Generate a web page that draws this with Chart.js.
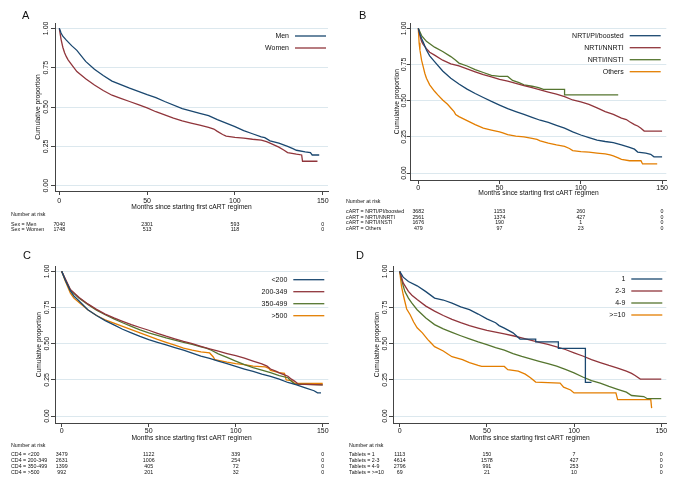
<!DOCTYPE html>
<html>
<head>
<meta charset="utf-8">
<script src="https://cdn.jsdelivr.net/npm/chart.js@4"></script>
<style>
  body { margin: 0; background: #fff; }
  #wrap { width: 676px; height: 486px; display: grid; grid-template-columns: 338px 338px; grid-template-rows: 243px 243px; }
  canvas { display: block; }
</style>
</head>
<body>
<div id="wrap">
  <canvas id="chartA" width="338" height="243"></canvas>
  <canvas id="chartB" width="338" height="243"></canvas>
  <canvas id="chartC" width="338" height="243"></canvas>
  <canvas id="chartD" width="338" height="243"></canvas>
</div>
<script>
const monthTicks = [0, 50, 100, 150];
const propTicks = [0, 0.25, 0.5, 0.75, 1];
const kmColors = ['#1a476f', '#90353b', '#55752f', '#e37e00'];

// Panel A: sex
const sexLabels = ['Men', 'Women'];
const menMonths = [0, 1, 2, 4, 7, 10, 15, 20, 25, 30, 40, 50, 55, 60, 70, 80, 85, 90, 100, 105, 110, 115, 117, 120, 125, 130, 133, 135, 140, 143, 144, 148];
const menProp = [1, 0.97, 0.95, 0.925, 0.89, 0.86, 0.79, 0.74, 0.70, 0.665, 0.62, 0.578, 0.56, 0.535, 0.49, 0.46, 0.445, 0.42, 0.375, 0.35, 0.33, 0.31, 0.305, 0.285, 0.27, 0.25, 0.235, 0.225, 0.215, 0.21, 0.195, 0.195];
const womenMonths = [0, 1, 2, 3, 4, 5, 7, 10, 15, 20, 25, 30, 35, 40, 45, 50, 55, 60, 65, 70, 75, 80, 85, 88, 90, 93, 95, 100, 105, 110, 115, 118, 120, 125, 128, 130, 135, 138, 138.5, 147];
const womenProp = [1, 0.93, 0.88, 0.845, 0.82, 0.8, 0.77, 0.725, 0.68, 0.64, 0.605, 0.575, 0.555, 0.535, 0.515, 0.495, 0.47, 0.45, 0.43, 0.412, 0.398, 0.385, 0.37, 0.36, 0.345, 0.325, 0.315, 0.307, 0.302, 0.295, 0.29, 0.28, 0.27, 0.245, 0.225, 0.21, 0.2, 0.195, 0.155, 0.155];
const sexRiskLabels = ['Sex = Men', 'Sex = Women'];
const sexRisk = [[7040, 2301, 593, 0], [1748, 513, 118, 0]];

// Panel B: cART regimen
const cartLabels = ['NRTI/PI/boosted', 'NRTI/NNRTI', 'NRTI/INSTI', 'Others'];
const piMonths = [0, 1, 2, 3, 5, 7, 10, 15, 20, 25, 30, 35, 40, 45, 50, 55, 60, 65, 70, 75, 80, 85, 90, 95, 100, 105, 110, 115, 120, 125, 130, 133, 135, 140, 143, 145, 150];
const piProp = [1, 0.96, 0.93, 0.905, 0.85, 0.81, 0.77, 0.705, 0.655, 0.615, 0.58, 0.55, 0.522, 0.495, 0.47, 0.445, 0.425, 0.405, 0.385, 0.365, 0.35, 0.33, 0.31, 0.285, 0.263, 0.245, 0.228, 0.218, 0.21, 0.195, 0.178, 0.165, 0.145, 0.138, 0.13, 0.112, 0.112];
const nnrtiMonths = [0, 1, 2, 3, 5, 7, 10, 15, 20, 25, 30, 35, 40, 45, 50, 55, 60, 65, 70, 75, 80, 85, 90, 95, 100, 105, 110, 115, 120, 125, 128, 130, 133, 135, 137, 139, 150];
const nnrtiProp = [1, 0.95, 0.91, 0.89, 0.86, 0.835, 0.815, 0.78, 0.755, 0.74, 0.72, 0.7, 0.68, 0.665, 0.647, 0.635, 0.62, 0.605, 0.59, 0.575, 0.56, 0.545, 0.528, 0.505, 0.492, 0.475, 0.45, 0.425, 0.405, 0.38, 0.37, 0.355, 0.335, 0.325, 0.31, 0.29, 0.29];
const instiMonths = [0, 2, 5, 10, 15, 20, 23, 25, 30, 35, 40, 45, 50, 55, 58, 62, 65, 70, 74, 77, 90, 90, 123];
const instiProp = [1, 0.95, 0.91, 0.87, 0.84, 0.805, 0.78, 0.76, 0.74, 0.715, 0.695, 0.675, 0.668, 0.668, 0.64, 0.625, 0.61, 0.6, 0.59, 0.578, 0.578, 0.54, 0.54];
const otherMonths = [0, 0.5, 1, 2, 3, 4, 5, 7, 10, 12, 15, 18, 20, 22, 23, 25, 30, 35, 40, 45, 50, 52, 55, 60, 65, 70, 73, 75, 80, 85, 90, 93, 95, 100, 105, 110, 115, 118, 120, 123, 125, 130, 137, 138, 147];
const otherProp = [1, 0.9, 0.85, 0.78, 0.735, 0.69, 0.655, 0.61, 0.565, 0.54, 0.505, 0.475, 0.45, 0.425, 0.405, 0.39, 0.362, 0.335, 0.31, 0.297, 0.285, 0.278, 0.265, 0.255, 0.25, 0.24, 0.232, 0.222, 0.207, 0.195, 0.185, 0.17, 0.155, 0.148, 0.145, 0.138, 0.132, 0.125, 0.118, 0.105, 0.095, 0.085, 0.085, 0.063, 0.063];
const cartRiskLabels = ['cART = NRTI/PI/boosted', 'cART = NRTI/NNRTI', 'cART = NRTI/INSTI', 'cART = Others'];
const cartRisk = [[3682, 1153, 260, 0], [2561, 1374, 427, 0], [1676, 190, 1, 0], [479, 97, 23, 0]];

// Panel C: CD4 count
const cd4Labels = ['<200', '200-349', '350-499', '>500'];
const cd4aMonths = [0, 2, 5, 7, 10, 15, 20, 25, 30, 35, 40, 45, 50, 55, 60, 65, 70, 75, 80, 85, 90, 95, 100, 105, 110, 115, 120, 125, 130, 135, 140, 145, 147, 149];
const cd4aProp = [1, 0.94, 0.865, 0.83, 0.795, 0.735, 0.695, 0.66, 0.63, 0.6, 0.575, 0.55, 0.528, 0.51, 0.492, 0.473, 0.455, 0.435, 0.415, 0.398, 0.38, 0.362, 0.343, 0.325, 0.308, 0.29, 0.274, 0.255, 0.232, 0.215, 0.195, 0.175, 0.16, 0.16];
const cd4bMonths = [0, 2, 5, 10, 15, 20, 25, 30, 35, 40, 45, 50, 55, 60, 65, 70, 75, 80, 85, 90, 95, 100, 105, 110, 115, 118, 120, 123, 125, 128, 130, 132, 134, 136, 150];
const cd4bProp = [1, 0.95, 0.875, 0.82, 0.775, 0.737, 0.705, 0.678, 0.655, 0.632, 0.612, 0.593, 0.572, 0.552, 0.534, 0.516, 0.5, 0.482, 0.465, 0.448, 0.432, 0.417, 0.4, 0.38, 0.36, 0.345, 0.325, 0.31, 0.298, 0.285, 0.275, 0.255, 0.24, 0.22, 0.215];
const cd4cMonths = [0, 2, 5, 10, 15, 20, 25, 30, 35, 40, 45, 50, 55, 60, 65, 70, 75, 80, 83, 86, 90, 95, 100, 105, 110, 115, 120, 125, 130, 132, 134, 150];
const cd4cProp = [1, 0.945, 0.87, 0.815, 0.772, 0.732, 0.7, 0.672, 0.645, 0.62, 0.595, 0.575, 0.558, 0.54, 0.525, 0.51, 0.495, 0.478, 0.47, 0.455, 0.43, 0.405, 0.38, 0.355, 0.335, 0.318, 0.3, 0.28, 0.265, 0.24, 0.22, 0.215];
const cd4dMonths = [0, 2, 5, 7, 10, 15, 20, 25, 30, 35, 40, 45, 50, 55, 60, 65, 70, 75, 80, 85, 87, 88, 90, 95, 100, 105, 110, 117, 119, 120, 125, 128, 129, 132, 134, 150];
const cd4dProp = [1, 0.935, 0.85, 0.815, 0.785, 0.735, 0.695, 0.665, 0.643, 0.62, 0.598, 0.575, 0.553, 0.53, 0.51, 0.49, 0.47, 0.455, 0.443, 0.436, 0.41, 0.39, 0.385, 0.372, 0.362, 0.355, 0.345, 0.34, 0.33, 0.315, 0.3, 0.295, 0.25, 0.245, 0.225, 0.225];
const cd4RiskLabels = ['CD4 = <200', 'CD4 = 200-349', 'CD4 = 350-499', 'CD4 = >500'];
const cd4Risk = [[3479, 1122, 339, 0], [2631, 1006, 254, 0], [1399, 405, 72, 0], [992, 201, 32, 0]];

// Panel D: number of tablets
const tabLabels = ['1', '2-3', '4-9', '>=10'];
const tab1Months = [0, 2, 5, 10, 15, 20, 25, 30, 35, 40, 45, 50, 55, 57, 60, 65, 69, 78, 78, 91, 91, 106.5, 106.5, 110];
const tab1Prop = [1, 0.96, 0.93, 0.9, 0.86, 0.815, 0.802, 0.78, 0.755, 0.735, 0.705, 0.672, 0.645, 0.625, 0.608, 0.575, 0.532, 0.532, 0.512, 0.512, 0.468, 0.468, 0.233, 0.233];
const tab2Months = [0, 2, 5, 7, 10, 15, 20, 25, 30, 35, 40, 45, 50, 55, 60, 65, 70, 75, 80, 85, 90, 95, 100, 105, 110, 115, 120, 125, 130, 133, 135, 138, 150];
const tab2Prop = [1, 0.92, 0.862, 0.835, 0.805, 0.76, 0.725, 0.695, 0.668, 0.645, 0.625, 0.608, 0.592, 0.58, 0.568, 0.555, 0.54, 0.525, 0.51, 0.495, 0.478, 0.46, 0.437, 0.415, 0.39, 0.37, 0.35, 0.332, 0.31, 0.295, 0.28, 0.255, 0.255];
const tab4Months = [0, 2, 3, 5, 7, 10, 15, 20, 25, 30, 35, 40, 45, 50, 55, 60, 65, 70, 75, 80, 85, 90, 95, 100, 105, 110, 115, 120, 125, 130, 133, 140, 142, 150];
const tab4Prop = [1, 0.9, 0.86, 0.815, 0.78, 0.735, 0.678, 0.632, 0.602, 0.578, 0.555, 0.533, 0.512, 0.493, 0.473, 0.455, 0.432, 0.412, 0.395, 0.378, 0.362, 0.345, 0.322, 0.298, 0.27, 0.245, 0.228, 0.205, 0.185, 0.165, 0.142, 0.135, 0.12, 0.12];
const tab10Months = [0, 1, 2, 3, 4, 6, 8, 10, 13, 16, 18, 20, 25, 28, 30, 36, 40, 45, 47, 60, 62, 68, 72, 75, 78, 92, 94, 98, 100, 124, 125, 144, 144.5];
const tab10Prop = [1, 0.9, 0.84, 0.79, 0.74, 0.7, 0.65, 0.61, 0.575, 0.53, 0.505, 0.48, 0.45, 0.425, 0.41, 0.39, 0.37, 0.35, 0.343, 0.343, 0.32, 0.31, 0.29, 0.265, 0.235, 0.228, 0.2, 0.18, 0.16, 0.16, 0.113, 0.113, 0.055];
const tabRiskLabels = ['Tablets = 1', 'Tablets = 2-3', 'Tablets = 4-9', 'Tablets = >=10'];
const tabRisk = [[1113, 150, 7, 0], [4614, 1578, 427, 0], [2796, 991, 253, 0], [69, 21, 10, 0]];

Chart.defaults.font.family = '"Liberation Sans", Arial, sans-serif';
Chart.defaults.color = '#111';

const textFont = '"Liberation Sans", Arial, sans-serif';

const kmLegend = {
  id: 'kmLegend',
  afterDraw(chart, args, opts) {
    const { ctx, chartArea } = chart;
    ctx.save();
    ctx.font = '7px ' + textFont;
    ctx.textAlign = 'right';
    ctx.textBaseline = 'middle';
    chart.data.datasets.forEach((ds, i) => {
      const y = chartArea.top + opts.firstRow + i * 12;
      const x1 = chartArea.right - opts.inset;
      const x0 = x1 - 31;
      ctx.strokeStyle = ds.borderColor;
      ctx.lineWidth = ds.borderWidth;
      ctx.beginPath();
      ctx.moveTo(x0, y);
      ctx.lineTo(x1, y);
      ctx.stroke();
      ctx.fillStyle = '#111';
      ctx.fillText(ds.label, x0 - 6, y);
    });
    ctx.restore();
  }
};

const riskTable = {
  id: 'riskTable',
  afterDraw(chart, args, opts) {
    const ctx = chart.ctx;
    const xs = chart.scales.x;
    ctx.save();
    ctx.fillStyle = '#111';
    ctx.textBaseline = 'middle';
    ctx.font = '11px ' + textFont;
    ctx.textAlign = 'left';
    ctx.fillText(opts.letter, opts.letterX, opts.letterY);
    ctx.font = '5.3px ' + textFont;
    ctx.fillText('Number at risk', opts.labelX, opts.headY);
    opts.labels.forEach((lab, i) => {
      const y = opts.firstY + i * opts.gap;
      ctx.textAlign = 'left';
      ctx.fillText(lab, opts.labelX, y);
      ctx.textAlign = 'center';
      monthTicks.forEach((m, j) => {
        ctx.fillText(String(opts.counts[i][j]), xs.getPixelForValue(m), y);
      });
    });
    ctx.restore();
  }
};

function curve(label, months, prop, i) {
  return {
    label: label,
    data: months.map((m, k) => ({ x: m, y: prop[k] })),
    borderColor: kmColors[i],
    borderWidth: 1.3,
    pointRadius: 0,
    fill: false,
    tension: 0
  };
}

function makePanel(id, datasets, L, risk) {
  new Chart(document.getElementById(id), {
    type: 'line',
    data: { datasets: datasets },
    options: {
      responsive: false,
      animation: false,
      events: [],
      layout: { padding: { left: 0, top: L.top, right: 338 - L.right, bottom: 243 - L.xBottom } },
      plugins: {
        legend: { display: false },
        tooltip: { enabled: false },
        kmLegend: { firstRow: L.legRow, inset: L.legInset },
        riskTable: risk
      },
      scales: {
        x: {
          type: 'linear',
          min: L.xMin,
          max: L.xMax,
          afterBuildTicks: s => { s.ticks = monthTicks.map(v => ({ value: v })); },
          afterFit: s => { s.height = L.xBottom - L.bottom; },
          grid: { drawOnChartArea: false, tickLength: 4, tickColor: '#444', color: '#444' },
          border: { color: '#444', width: 1 },
          ticks: { font: { size: 7 }, color: '#111', padding: L.xPad, maxRotation: 0, callback: v => String(v) },
          title: { display: true, text: 'Months since starting first cART regimen', font: { size: 6.7 }, color: '#111', padding: 0 }
        },
        y: {
          type: 'linear',
          min: L.yMin,
          max: L.yMax,
          afterBuildTicks: s => { s.ticks = propTicks.map(v => ({ value: v })); },
          afterFit: s => { s.width = L.left; },
          grid: { color: '#dce8ee', lineWidth: 1, tickLength: 4, tickColor: '#444' },
          border: { color: '#444', width: 1 },
          ticks: { font: { size: 7 }, color: '#111', minRotation: 90, maxRotation: 90, crossAlign: 'center', padding: L.yPad, callback: v => v.toFixed(2) },
          title: { display: true, text: 'Cumulative proportion', font: { size: 6.7 }, color: '#111', padding: { top: L.yTitle - 4, bottom: 0 } }
        }
      }
    },
    plugins: [kmLegend, riskTable]
  });
}

makePanel('chartA', [
  curve(sexLabels[0], menMonths, menProp, 0),
  curve(sexLabels[1], womenMonths, womenProp, 1)
], { left: 55, right: 328, top: 23, bottom: 191, xBottom: 210.7, xMin: -2.45, xMax: 153, yMin: -0.034, yMax: 1.034, xPad: 1.5, yPad: -1.8, yTitle: 38, legRow: 13, legInset: 2 },
{ letter: 'A', letterX: 22, letterY: 15.5, labelX: 11, headY: 215, firstY: 224.5, gap: 5.5, labels: sexRiskLabels, counts: sexRisk });

makePanel('chartB', [
  curve(cartLabels[0], piMonths, piProp, 0),
  curve(cartLabels[1], nnrtiMonths, nnrtiProp, 1),
  curve(cartLabels[2], instiMonths, instiProp, 2),
  curve(cartLabels[3], otherMonths, otherProp, 3)
], { left: 72.7, right: 328.3, top: 23.3, bottom: 180, xBottom: 197.3, xMin: -4.68, xMax: 152.6, yMin: -0.048, yMax: 1.035, xPad: -0.5, yPad: -4.6, yTitle: 59, legRow: 12.4, legInset: 5.6 },
{ letter: 'B', letterX: 21, letterY: 15.5, labelX: 8, headY: 202, firstY: 212, gap: 5.5, labels: cartRiskLabels, counts: cartRisk });

makePanel('chartC', [
  curve(cd4Labels[0], cd4aMonths, cd4aProp, 0),
  curve(cd4Labels[1], cd4bMonths, cd4bProp, 1),
  curve(cd4Labels[2], cd4cMonths, cd4cProp, 2),
  curve(cd4Labels[3], cd4dMonths, cd4dProp, 3)
], { left: 55, right: 328.3, top: 23.3, bottom: 180, xBottom: 199, xMin: -3.85, xMax: 153.2, yMin: -0.048, yMax: 1.035, xPad: 0, yPad: -2.5, yTitle: 39, legRow: 13.4, legInset: 4 },
{ letter: 'C', letterX: 23, letterY: 13.3, labelX: 11, headY: 202.3, firstY: 211.8, gap: 5.8, labels: cd4RiskLabels, counts: cd4Risk });

makePanel('chartD', [
  curve(tabLabels[0], tab1Months, tab1Prop, 0),
  curve(tabLabels[1], tab2Months, tab2Prop, 1),
  curve(tabLabels[2], tab4Months, tab4Prop, 2),
  curve(tabLabels[3], tab10Months, tab10Prop, 3)
], { left: 55, right: 328.3, top: 23.3, bottom: 180, xBottom: 199, xMin: -3.84, xMax: 152.9, yMin: -0.048, yMax: 1.035, xPad: 0, yPad: -2.5, yTitle: 39, legRow: 12.7, legInset: 4 },
{ letter: 'D', letterX: 18, letterY: 13.3, labelX: 11, headY: 202.3, firstY: 212, gap: 6, labels: tabRiskLabels, counts: tabRisk });
</script>
</body>
</html>
